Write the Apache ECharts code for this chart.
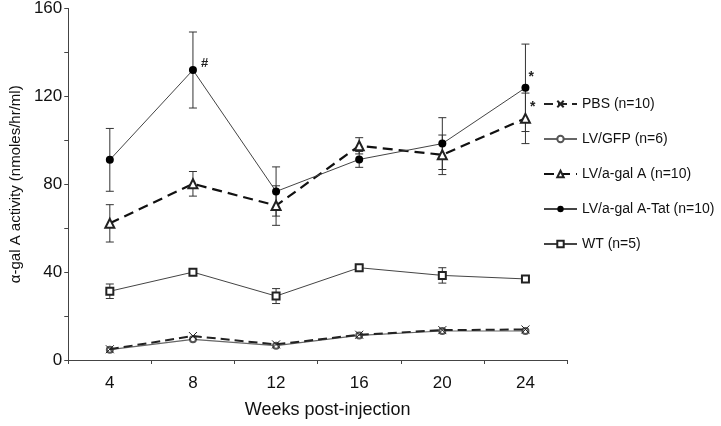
<!DOCTYPE html>
<html>
<head>
<meta charset="utf-8">
<script src="https://cdn.jsdelivr.net/npm/echarts@6/dist/echarts.min.js"></script>
<style>
html,body{margin:0;padding:0;background:#fff;}
#main{width:721px;height:426px;}
</style>
</head>
<body>
<div id="main"></div>
<script>
var weeks = ['4', '8', '12', '16', '20', '24'];
var yTickLabels = [0, 40, 80, 120, 160];

var pbsMean = [4.9, 10.9, 7.1, 11.5, 13.6, 13.9];
var gfpMean = [4.7, 9.4, 6.5, 11.2, 13.2, 13.2];
var galMean = [62.2, 80.2, 70.3, 97.5, 93.4, 110.0];
var galErr  = [8.5, 5.6, 9.0, 3.7, 9.0, 11.5];
var tatMean = [91.1, 132.0, 76.7, 91.3, 98.5, 123.9];
var tatErr  = [14.3, 17.3, 11.2, 3.6, 11.8, 19.9];
var wtMean  = [31.3, 40.0, 29.1, 42.0, 38.5, 36.9];
var wtErr   = [3.3, 1.0, 3.4, 1.0, 3.5, 0.8];

var seriesNames = ['PBS (n=10)', 'LV/GFP (n=6)', 'LV/a-gal A (n=10)', 'LV/a-gal A-Tat (n=10)', 'WT (n=5)'];

// significance marks: [series name, week index, text]
var marks = [
  ['LV/a-gal A-Tat (n=10)', 1, '#'],
  ['LV/a-gal A-Tat (n=10)', 5, '*'],
  ['LV/a-gal A (n=10)', 5, '*']
];

var FONT = "'Liberation Sans', Arial, sans-serif";
var crossPath = 'path://M0,0L10,10M10,0L0,10';

function withMarks(name, values) {
  return values.map(function (v, i) {
    var m = marks.filter(function (k) { return k[0] === name && k[1] === i; })[0];
    if (!m) return v;
    var isHash = m[2] === '#';
    return {
      value: v,
      label: {
        show: true, formatter: m[2], position: 'right',
        offset: isHash ? [-1, -7] : [-6, -11],
        fontSize: isHash ? 13 : 14, fontWeight: 'bold', color: '#222', fontFamily: FONT
      }
    };
  });
}

function errData(mean, err) {
  return mean.map(function (m, i) { return [i, m - err[i], m + err[i]]; });
}

function errSeries(mean, err) {
  return {
    type: 'custom',
    z: 1,
    silent: true,
    data: errData(mean, err),
    renderItem: function (params, api) {
      var lo = api.coord([api.value(0), api.value(1)]);
      var hi = api.coord([api.value(0), api.value(2)]);
      var w = 4;
      var st = { stroke: '#333', lineWidth: 1 };
      return {
        type: 'group',
        children: [
          { type: 'line', shape: { x1: hi[0], y1: hi[1], x2: lo[0], y2: lo[1] }, style: st },
          { type: 'line', shape: { x1: hi[0] - w, y1: hi[1], x2: hi[0] + w, y2: hi[1] }, style: st },
          { type: 'line', shape: { x1: lo[0] - w, y1: lo[1], x2: lo[0] + w, y2: lo[1] }, style: st }
        ]
      };
    }
  };
}

var chart = echarts.init(document.getElementById('main'), null, { renderer: 'canvas' });
chart.setOption({
  animation: false,
  backgroundColor: '#fff',
  textStyle: { fontFamily: FONT },
  grid: { left: 68, right: 154, top: 7, bottom: 66 },
  legend: {
    orient: 'vertical',
    left: 538,
    top: 92,
    itemWidth: 33,
    itemHeight: 8,
    itemGap: 21,
    data: seriesNames,
    textStyle: { fontSize: 14, color: '#111', fontFamily: FONT }
  },
  xAxis: {
    type: 'category',
    data: weeks,
    boundaryGap: true,
    axisLine: { lineStyle: { color: '#444', width: 1 } },
    axisTick: { show: true, length: 4, lineStyle: { color: '#444' } },
    axisLabel: { fontSize: 17, color: '#111', margin: 15, fontFamily: FONT },
    name: 'Weeks post-injection',
    nameLocation: 'middle',
    nameGap: 41,
    nameTextStyle: { fontSize: 18, color: '#111', padding: [0, 0, 0, 20], fontFamily: FONT }
  },
  yAxis: {
    type: 'value',
    min: 0,
    max: 160,
    interval: 20,
    splitLine: { show: false },
    axisLine: { show: true, lineStyle: { color: '#444', width: 1 } },
    axisTick: { show: true, length: 4, lineStyle: { color: '#444' } },
    axisLabel: {
      fontSize: 17, color: '#111', margin: 6, fontFamily: FONT,
      formatter: function (v) { return yTickLabels.indexOf(v) >= 0 ? String(v) : ''; }
    },
    name: 'α-gal A activity (nmoles/hr/ml)',
    nameLocation: 'middle',
    nameGap: 42,
    nameTextStyle: { fontSize: 15, color: '#111', fontFamily: FONT }
  },
  series: [
    errSeries(galMean, galErr),
    errSeries(tatMean, tatErr),
    errSeries(wtMean, wtErr),
    {
      name: seriesNames[1], type: 'line', z: 2,
      data: gfpMean,
      symbol: 'emptyCircle', symbolSize: 6,
      itemStyle: { color: '#555', borderColor: '#555', borderWidth: 1 },
      lineStyle: { color: '#666', width: 1.2 }
    },
    {
      name: seriesNames[0], type: 'line', z: 3,
      data: pbsMean,
      symbol: crossPath, symbolSize: 8,
      itemStyle: { color: '#222', borderColor: '#222', borderWidth: 1 },
      lineStyle: { color: '#222', width: 2, type: [9, 5] }
    },
    {
      name: seriesNames[2], type: 'line', z: 3,
      data: withMarks(seriesNames[2], galMean),
      symbol: 'emptyTriangle', symbolSize: 9,
      itemStyle: { color: '#222', borderColor: '#222', borderWidth: 1 },
      lineStyle: { color: '#111', width: 2.2, type: [10, 6] }
    },
    {
      name: seriesNames[3], type: 'line', z: 3,
      data: withMarks(seriesNames[3], tatMean),
      symbol: 'circle', symbolSize: 8,
      itemStyle: { color: '#000' },
      lineStyle: { color: '#444', width: 1 }
    },
    {
      name: seriesNames[4], type: 'line', z: 3,
      data: wtMean,
      symbol: 'emptyRect', symbolSize: 7,
      itemStyle: { color: '#222', borderColor: '#222', borderWidth: 1 },
      lineStyle: { color: '#444', width: 1 }
    }
  ]
});
</script>
</body>
</html>
